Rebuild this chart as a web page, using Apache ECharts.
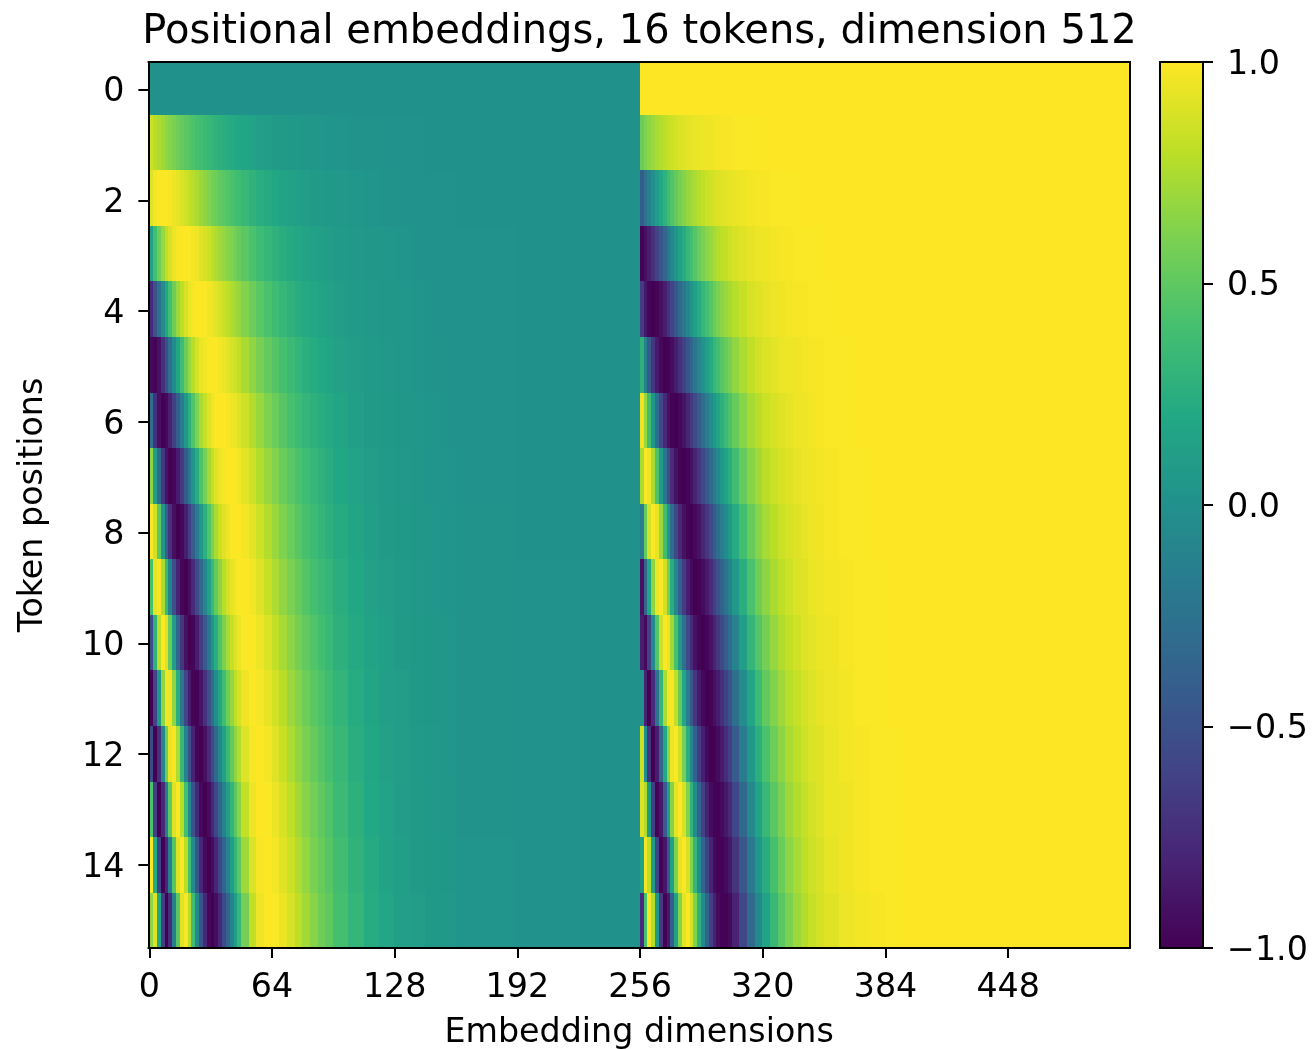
<!DOCTYPE html>
<html><head><meta charset="utf-8">
<style>html,body{margin:0;padding:0;background:#fff}#c{width:1312px;height:1049px}</style>
<script src="https://cdn.jsdelivr.net/npm/echarts@6/dist/echarts.min.js"></script>
</head><body><div id="c"></div>
<script>
const columnStarts=[0,2,4,6,8,10,12,14,16,18,20,22,24,26,28,30,32,34,36,38,40,42,44,46,48,52,56,60,64,68,72,76,80,84,88,92,96,104,112,120,128,136,144,152,160,192,224];
const halfWidth=256;
const rowLabels=[0,1,2,3,4,5,6,7,8,9,10,11,12,13,14,15];
const colorbarTicks=[-1,-0.5,0,0.5,1];
const viridis=['#440154','#482475','#414487','#355f8d','#2a788e','#21918c','#22a884','#44bf70','#7ad151','#bddf26','#fde725'];

const row0Left=[0,0,0,0,0,0,0,0,0,0,0,0,0,0,0,0,0,0,0,0,0,0,0,0,0,0,0,0,0,0,0,0,0,0,0,0,0,0,0,0,0,0,0,0,0,0,0];
const row0Right=[1,1,1,1,1,1,1,1,1,1,1,1,1,1,1,1,1,1,1,1,1,1,1,1,1,1,1,1,1,1,1,1,1,1,1,1,1,1,1,1,1,1,1,1,1,1,1];
const row1Left=[.84,.79,.75,.71,.67,.63,.60,.56,.52,.49,.46,.43,.40,.38,.35,.33,.31,.29,.27,.25,.23,.22,.20,.19,.17,.15,.13,.11,.09,.08,.07,.06,.05,.05,.04,.03,.03,.02,.02,.01,.01,.01,0,0,0,0,0];
const row1Right=[.54,.61,.66,.70,.74,.77,.80,.83,.85,.87,.89,.90,.92,.93,.94,.94,.95,.96,.96,.97,.97,.98,.98,.98,.99,.99,.99,.99,1,1,1,1,1,1,1,1,1,1,1,1,1,1,1,1,1,1,1];
const row2Left=[.91,.97,.99,1,1,.98,.96,.93,.89,.86,.82,.78,.74,.70,.66,.62,.58,.55,.51,.48,.45,.42,.39,.37,.33,.29,.25,.22,.19,.16,.14,.12,.11,.09,.08,.07,.06,.04,.03,.02,.02,.01,.01,.01,0,0,0];
const row2Right=[-.42,-.25,-.13,-.01,.10,.20,.29,.37,.45,.52,.58,.63,.68,.72,.75,.78,.81,.84,.86,.88,.89,.91,.92,.93,.94,.96,.97,.98,.98,.99,.99,.99,.99,1,1,1,1,1,1,1,1,1,1,1,1,1,1];
const row3Left=[.14,.39,.55,.69,.80,.88,.94,.98,1,1,.99,.97,.95,.91,.88,.84,.80,.76,.72,.68,.64,.61,.57,.53,.48,.42,.37,.32,.28,.24,.21,.18,.16,.14,.12,.10,.08,.06,.05,.04,.03,.02,.01,.01,.01,0,0];
const row3Right=[-.99,-.92,-.83,-.72,-.60,-.47,-.34,-.21,-.09,.03,.14,.23,.32,.40,.47,.54,.60,.65,.69,.73,.77,.80,.82,.85,.88,.91,.93,.95,.96,.97,.98,.98,.99,.99,.99,.99,1,1,1,1,1,1,1,1,1,1,1];
const row4Left=[-.76,-.49,-.26,-.03,.19,.39,.56,.69,.80,.88,.94,.98,1,1,.99,.97,.95,.92,.88,.84,.80,.76,.72,.68,.62,.55,.48,.42,.37,.32,.28,.24,.21,.18,.16,.14,.11,.08,.06,.05,.04,.03,.02,.01,.01,0,0];
const row4Right=[-.65,-.87,-.97,-1,-.98,-.92,-.83,-.72,-.60,-.47,-.33,-.21,-.09,.03,.13,.23,.32,.40,.47,.54,.60,.65,.69,.73,.78,.83,.88,.91,.93,.95,.96,.97,.98,.98,.99,.99,.99,1,1,1,1,1,1,1,1,1,1];
const row5Left=[-.96,-.99,-.90,-.73,-.52,-.28,-.05,.17,.37,.54,.68,.79,.88,.94,.97,.99,1,.99,.97,.95,.92,.88,.85,.81,.74,.67,.59,.52,.46,.40,.35,.30,.26,.23,.20,.17,.14,.10,.08,.06,.04,.03,.02,.02,.01,0,0];
const row5Right=[.28,-.14,-.44,-.68,-.86,-.96,-1,-.98,-.93,-.84,-.73,-.61,-.48,-.35,-.22,-.10,.02,.13,.22,.32,.39,.47,.53,.59,.67,.75,.81,.86,.89,.92,.94,.95,.96,.97,.98,.98,.99,.99,1,1,1,1,1,1,1,1,1];
const row6Left=[-.28,-.72,-.92,-1,-.96,-.82,-.63,-.41,-.17,.06,.27,.45,.61,.74,.83,.91,.96,.99,1,1,.98,.96,.94,.90,.85,.77,.69,.61,.54,.47,.41,.36,.31,.27,.24,.21,.17,.12,.09,.07,.05,.04,.03,.02,.01,0,0];
const row6Right=[.96,.69,.38,.04,-.29,-.57,-.77,-.91,-.99,-1,-.96,-.89,-.79,-.67,-.55,-.42,-.29,-.16,-.04,.07,.17,.27,.35,.43,.53,.64,.73,.79,.84,.88,.91,.93,.95,.96,.97,.98,.99,.99,1,1,1,1,1,1,1,1,1];
const row7Left=[.66,.11,-.32,-.67,-.90,-1,-.97,-.85,-.66,-.44,-.20,.03,.24,.43,.59,.72,.82,.90,.95,.98,1,1,.99,.97,.92,.85,.77,.69,.62,.54,.48,.42,.37,.32,.28,.24,.19,.15,.11,.08,.06,.05,.03,.03,.01,0,0];
const row7Right=[.75,.99,.95,.74,.43,.08,-.24,-.53,-.75,-.90,-.98,-1,-.97,-.90,-.81,-.69,-.57,-.44,-.31,-.18,-.06,.05,.16,.25,.38,.52,.64,.72,.79,.84,.88,.91,.93,.95,.96,.97,.98,.99,.99,1,1,1,1,1,1,1,1];
const row8Left=[.99,.86,.50,.05,-.38,-.72,-.92,-1,-.96,-.83,-.63,-.41,-.17,.06,.27,.45,.61,.74,.84,.91,.96,.99,1,1,.97,.92,.85,.77,.69,.61,.54,.47,.41,.36,.31,.27,.22,.17,.13,.09,.07,.05,.04,.03,.02,0,0];
const row8Right=[-.15,.52,.87,1,.93,.70,.38,.04,-.29,-.56,-.77,-.91,-.98,-1,-.96,-.89,-.79,-.68,-.55,-.42,-.29,-.16,-.05,.07,.23,.39,.53,.64,.73,.79,.84,.88,.91,.93,.95,.96,.98,.99,.99,1,1,1,1,1,1,1,1];
const row9Left=[.41,.93,.98,.75,.34,-.12,-.51,-.81,-.97,-1,-.92,-.76,-.55,-.32,-.09,.14,.34,.52,.66,.78,.87,.93,.97,.99,1,.97,.91,.83,.75,.67,.60,.53,.46,.40,.35,.31,.25,.19,.14,.11,.08,.06,.04,.03,.02,.01,0];
const row9Right=[-.91,-.36,.19,.66,.94,.99,.86,.59,.25,-.09,-.40,-.65,-.83,-.95,-1,-.99,-.94,-.86,-.75,-.63,-.50,-.37,-.24,-.12,.06,.25,.42,.56,.66,.74,.80,.85,.89,.91,.94,.95,.97,.98,.99,.99,1,1,1,1,1,1,1];
const row10Left=[-.54,.28,.79,1,.89,.54,.10,-.34,-.69,-.91,-1,-.97,-.84,-.65,-.43,-.20,.03,.25,.44,.60,.73,.83,.90,.95,.99,.99,.95,.89,.81,.73,.65,.58,.51,.45,.39,.34,.27,.21,.16,.12,.09,.07,.05,.04,.02,.01,0];
const row10Right=[-.84,-.96,-.61,-.07,.46,.84,1,.94,.72,.41,.07,-.26,-.54,-.76,-.90,-.98,-1,-.97,-.90,-.80,-.69,-.56,-.43,-.30,-.11,.11,.31,.46,.58,.68,.76,.82,.86,.90,.92,.94,.96,.98,.99,.99,1,1,1,1,1,1,1];
const row11Left=[-1,-.59,.06,.65,.97,.95,.67,.25,-.21,-.59,-.85,-.98,-.99,-.89,-.72,-.51,-.28,-.04,.18,.38,.55,.68,.80,.88,.96,1,.98,.93,.86,.79,.70,.63,.55,.49,.43,.37,.30,.23,.17,.13,.10,.07,.05,.04,.02,.01,0];
const row11Right=[0,-.81,-1,-.76,-.25,.31,.74,.97,.98,.81,.52,.18,-.16,-.46,-.69,-.86,-.96,-1,-.98,-.92,-.84,-.73,-.61,-.48,-.27,-.04,.18,.36,.51,.62,.71,.78,.83,.87,.90,.93,.95,.97,.99,.99,1,1,1,1,1,1,1];
const row12Left=[-.54,-1,-.71,-.08,.55,.93,.98,.75,.33,-.11,-.52,-.81,-.97,-1,-.92,-.76,-.56,-.32,-.09,.14,.34,.51,.66,.77,.90,.98,1,.97,.91,.83,.75,.67,.60,.53,.46,.40,.33,.25,.19,.14,.11,.08,.06,.04,.02,.01,0];
const row12Right=[.84,-.03,-.70,-1,-.84,-.36,.20,.66,.94,.99,.85,.59,.25,-.09,-.39,-.65,-.83,-.95,-1,-.99,-.94,-.86,-.75,-.63,-.43,-.18,.06,.26,.42,.55,.66,.74,.80,.85,.89,.91,.94,.97,.98,.99,.99,1,1,1,1,1,1];
const row13Left=[.42,-.63,-1,-.77,-.16,.50,.90,.99,.78,.39,-.07,-.48,-.78,-.96,-1,-.93,-.78,-.58,-.35,-.11,.11,.31,.49,.64,.82,.95,1,.99,.94,.88,.80,.72,.64,.57,.50,.44,.35,.27,.20,.15,.11,.09,.06,.05,.02,.01,0];
const row13Right=[.91,.77,.07,-.64,-.99,-.87,-.43,.13,.63,.92,1,.88,.62,.29,-.05,-.36,-.62,-.82,-.94,-.99,-.99,-.95,-.87,-.77,-.58,-.32,-.07,.15,.33,.48,.60,.70,.77,.82,.87,.90,.94,.96,.98,.99,.99,1,1,1,1,1,1];
const row14Left=[.99,.23,-.61,-1,-.78,-.16,.47,.89,.99,.79,.40,-.05,-.47,-.78,-.95,-1,-.94,-.79,-.58,-.35,-.12,.10,.31,.49,.71,.89,.98,1,.97,.91,.84,.76,.68,.60,.53,.47,.38,.29,.22,.16,.12,.09,.07,.05,.03,.01,0];
const row14Right=[.14,.97,.80,.09,-.62,-.99,-.88,-.45,.13,.61,.92,1,.88,.63,.31,-.04,-.35,-.61,-.81,-.94,-.99,-.99,-.95,-.87,-.70,-.46,-.19,.04,.24,.41,.54,.65,.73,.80,.85,.88,.93,.96,.98,.99,.99,1,1,1,1,1,1];
const row15Left=[.65,.91,.20,-.63,-1,-.75,-.14,.49,.91,.99,.78,.38,-.07,-.49,-.78,-.96,-1,-.93,-.78,-.57,-.35,-.11,.11,.32,.58,.81,.95,1,.99,.94,.88,.80,.72,.64,.56,.50,.40,.31,.23,.18,.13,.10,.07,.06,.03,.01,0];
const row15Right=[-.76,.41,.98,.77,.06,-.66,-.99,-.87,-.41,.14,.63,.92,1,.87,.62,.29,-.05,-.37,-.63,-.82,-.94,-.99,-.99,-.95,-.81,-.58,-.31,-.06,.15,.33,.48,.60,.70,.77,.83,.87,.91,.95,.97,.98,.99,1,1,1,1,1,1];

const leftRows=[row0Left,row1Left,row2Left,row3Left,row4Left,row5Left,row6Left,row7Left,row8Left,row9Left,row10Left,row11Left,row12Left,row13Left,row14Left,row15Left];
const rightRows=[row0Right,row1Right,row2Right,row3Right,row4Right,row5Right,row6Right,row7Right,row8Right,row9Right,row10Right,row11Right,row12Right,row13Right,row14Right,row15Right];

const dims=[];for(let d=0;d<2*halfWidth;d++)dims.push(d);
const blocks=[];
rowLabels.forEach(function(r){
  [[leftRows[r],0],[rightRows[r],halfWidth]].forEach(function(pair){
    const vals=pair[0],off=pair[1];
    columnStarts.forEach(function(st,i){
      const end=i+1<columnStarts.length?columnStarts[i+1]:halfWidth;
      blocks.push([st+off,end+off,r,vals[i]]);
    });
  });
});

const FONT='"DejaVu Sans"';
const TICK=33.3;
const TXT={fontFamily:FONT,fontSize:TICK,color:'#000'};
const line={show:true,onZero:false,lineStyle:{color:'#000',width:2}};
const tick={show:true,length:10,lineStyle:{color:'#000',width:2}};
const frame=function(grid,pos){return {type:'value',gridIndex:grid,min:0,max:1,position:pos,z:5,axisLine:line,axisTick:{show:false},axisLabel:{show:false},splitLine:{show:false}};};
function renderBlock(params,api){
  const a=api.coord([api.value(0)-0.5,api.value(2)]);
  const b=api.coord([api.value(1)-0.5,api.value(2)]);
  const h=api.size([0,1])[1];
  const x0=Math.round(a[0]),x1=Math.round(b[0]);
  const y0=Math.round(a[1]-h/2),y1=Math.round(a[1]+h/2);
  return {type:'rect',shape:{x:x0,y:y0,width:x1-x0,height:y1-y0},style:{fill:api.visual('color')}};
}
const chart=echarts.init(document.getElementById('c'),null,{renderer:'canvas'});
chart.setOption({
  animation:false,
  backgroundColor:'#fff',
  title:{text:'Positional embeddings, 16 tokens, dimension 512',left:634.5,top:8,textAlign:'center',
    textStyle:{fontFamily:FONT,fontSize:40,fontWeight:'normal',color:'#000'}},
  grid:[
    {left:149.2,top:59.2,width:981,height:889,containLabel:false,outerBoundsMode:'none'},
    {left:148.35,top:62,width:981.55,height:886,containLabel:false,outerBoundsMode:'none'},
    {left:1160,top:62,width:43,height:886,containLabel:false,outerBoundsMode:'none'}
  ],
  graphic:[{type:'rect',z:4,silent:true,shape:{x:140,y:50,width:1000,height:11.5},style:{fill:'#fff'}}],
  xAxis:[
    {type:'value',gridIndex:0,min:-0.5,max:2*halfWidth-0.5,show:false,splitLine:{show:false}},
    {type:'category',gridIndex:1,data:dims,position:'bottom',z:5,
     axisLine:line,
     axisTick:Object.assign({},tick,{alignWithLabel:true,interval:function(i){return i%64===0;}}),
     axisLabel:Object.assign({interval:function(i){return i%64===0;},margin:24,hideOverlap:false},TXT),
     splitLine:{show:false},
     name:'Embedding dimensions',nameLocation:'middle',nameGap:69,nameTextStyle:TXT},
    frame(1,'top'),frame(2,'bottom'),frame(2,'top')
  ],
  yAxis:[
    {type:'category',gridIndex:0,data:rowLabels,inverse:true,show:false},
    {type:'category',gridIndex:1,data:rowLabels,inverse:true,position:'left',z:5,
     axisLine:line,
     axisTick:Object.assign({},tick,{alignWithLabel:true,interval:function(i){return i%2===0;}}),
     axisLabel:Object.assign({interval:function(i){return i%2===0;},margin:24,hideOverlap:false,verticalAlign:'top',lineHeight:6},TXT),
     splitLine:{show:false},
     name:'Token positions',nameLocation:'middle',nameGap:98,nameRotate:90,nameTextStyle:TXT},
    frame(1,'right'),
    {type:'value',gridIndex:2,min:colorbarTicks[0],max:colorbarTicks[4],interval:0.5,position:'right',z:5,
     axisLine:line,axisTick:tick,splitLine:{show:false},
     axisLabel:Object.assign({margin:24,showMinLabel:true,showMaxLabel:true,hideOverlap:false,verticalAlign:'top',lineHeight:6,
       formatter:function(v){return v.toFixed(1).replace('-','\u2212');}},TXT)},
    frame(2,'left')
  ],
  visualMap:{type:'continuous',min:-1,max:1,seriesIndex:0,dimension:3,calculable:false,hoverLink:false,
    left:1160,top:62,itemWidth:43,itemHeight:886,padding:0,text:null,showLabel:false,
    inRange:{color:viridis},z:3},
  series:[{type:'custom',xAxisIndex:0,yAxisIndex:0,data:blocks,renderItem:renderBlock,
    encode:{x:[0,1],y:2},progressive:0,silent:true,clip:false}]
});
</script></body></html>
